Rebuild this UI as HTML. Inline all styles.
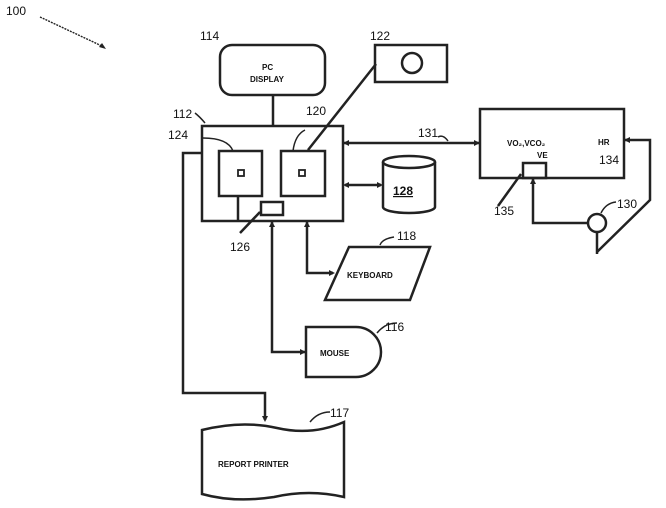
<!DOCTYPE html>
<html><head><style>body{margin:0;background:#fff}svg{display:block}text{font-family:"Liberation Sans",sans-serif;fill:#111}</style></head>
<body>
<svg width="666" height="508" viewBox="0 0 666 508" xmlns="http://www.w3.org/2000/svg">
<g fill="none" stroke="#222" stroke-width="2.5">
<line x1="40" y1="17" x2="104" y2="47" stroke-dasharray="2,1" stroke-width="1.4"/>
<polygon points="106,49 99,47 102,43" fill="#222" stroke="none"/>
<rect x="220" y="45" width="105" height="50" rx="12"/>
<line x1="273" y1="95" x2="273" y2="126"/>
<rect x="375" y="45" width="72" height="37"/>
<circle cx="412" cy="63" r="10"/>
<line x1="376" y1="64" x2="308" y2="150"/>
<rect x="202" y="126" width="141" height="95"/>
<rect x="219" y="151" width="43" height="45"/>
<rect x="281" y="151" width="44" height="45"/>
<rect x="238" y="170" width="6" height="6" stroke-width="1.8"/>
<rect x="299" y="170" width="6" height="6" stroke-width="1.8"/>
<rect x="261" y="202" width="22" height="13"/>
<line x1="238" y1="196" x2="238" y2="221"/>
<line x1="240" y1="233" x2="260" y2="212"/>
<path d="M205 123 q-5 -6 -10 -10" stroke-width="1.5"/>
<path d="M203 138 q25 0 30 13" stroke-width="1.5"/>
<path d="M305 130 q-10 5 -12 21" stroke-width="1.5"/>
<line x1="343" y1="143" x2="480" y2="143"/>
<path d="M438 137 q5 -3 10 4" stroke-width="1.5"/>
<path d="M383 162 v45 a26 6 0 0 0 52 0 v-45"/>
<ellipse cx="409" cy="162" rx="26" ry="6"/>
<line x1="345" y1="185" x2="381" y2="185"/>
<polyline points="202,153 183,153 183,393 265,393 265,420"/>
<polyline points="272,221 272,352 305,352"/>
<polyline points="307,221 307,273 333,273"/>
<polygon points="349,247 430,247 410,300 325,300"/>
<path d="M380 245 q2 -6 14 -8" stroke-width="1.5"/>
<path d="M306 327 h50 a25 25 0 0 1 0 50 h-50 z"/>
<path d="M377 333 q8 -10 20 -10" stroke-width="1.5"/>
<path d="M202 430 q40 -10 75 -2 q35 8 67 -6 v75 q-35 -8 -70 0 q-40 6 -72 -3 z"/>
<path d="M310 422 q8 -10 20 -10" stroke-width="1.5"/>
<rect x="480" y="109" width="144" height="69"/>
<rect x="523" y="163" width="23" height="15"/>
<line x1="498" y1="206" x2="521" y2="174"/>
<polyline points="533,178 533,223 588,223"/>
<circle cx="597" cy="223" r="9"/>
<polyline points="624,140 650,140 650,200 597,252"/>
<line x1="597" y1="232" x2="597" y2="254"/>
<path d="M601 213 q5 -10 15 -11" stroke-width="1.5"/>
</g>
<g fill="#222">
<polygon points="343,143 349,140 349,146"/><polygon points="480,143 474,140 474,146"/>
<polygon points="343,185 349,182 349,188"/><polygon points="383,185 377,182 377,188"/>
<polygon points="272,221 269,227 275,227"/><polygon points="307,221 304,227 310,227"/>
<polygon points="335,273 329,270 329,276"/><polygon points="306,352 300,349 300,355"/>
<polygon points="265,422 262,416 268,416"/><polygon points="624,140 630,137 630,143"/>
<polygon points="533,178 530,184 536,184"/>
</g>
<g font-size="12">
<text x="6" y="15">100</text>
<text x="200" y="40">114</text>
<text x="370" y="40">122</text>
<text x="173" y="118">112</text>
<text x="168" y="139">124</text>
<text x="306" y="115">120</text>
<text x="418" y="137">131</text>
<text x="230" y="251">126</text>
<text x="397" y="240">118</text>
<text x="385" y="331">116</text>
<text x="330" y="417">117</text>
<text x="494" y="215">135</text>
<text x="617" y="208">130</text>
<text x="599" y="164">134</text>
<text x="393" y="195" text-decoration="underline" font-weight="bold">128</text>
</g>
<g font-size="8" font-weight="bold">
<text x="262" y="70">PC</text>
<text x="250" y="82">DISPLAY</text>
<text x="347" y="278">KEYBOARD</text>
<text x="320" y="356">MOUSE</text>
<text x="218" y="467">REPORT PRINTER</text>
<text x="507" y="146">VO₂,VCO₂</text>
<text x="537" y="158">VE</text>
<text x="598" y="145">HR</text>
</g>
</svg>
</body></html>
